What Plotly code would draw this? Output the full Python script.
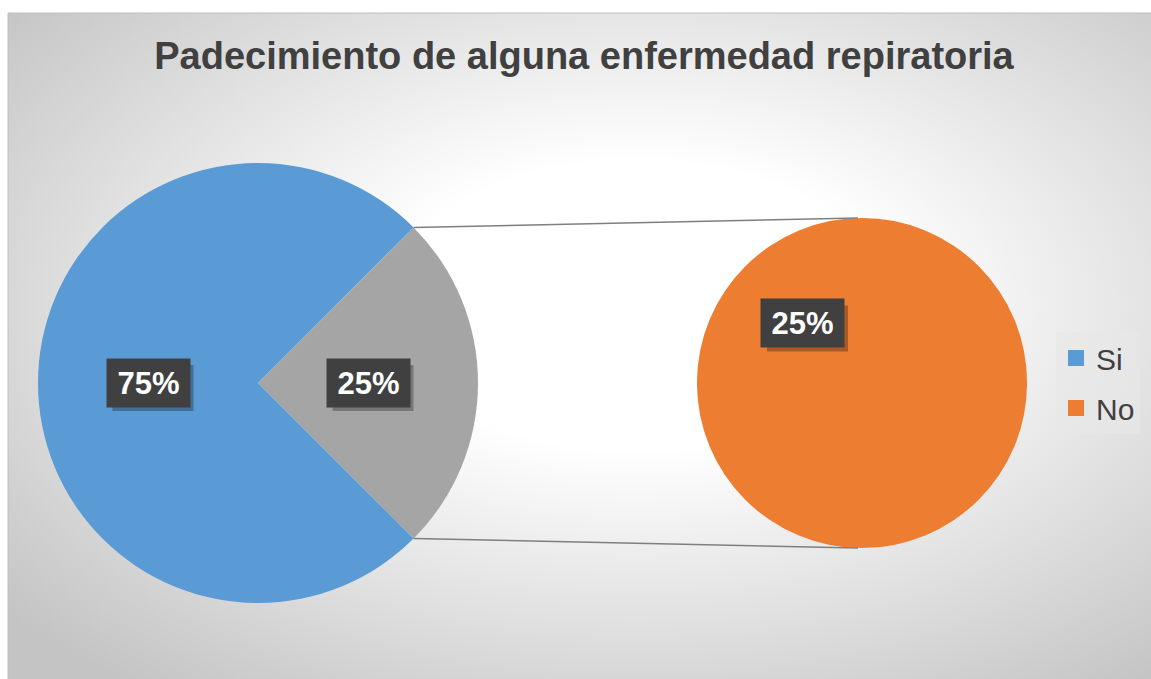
import base64
import math
import plotly.graph_objects as go

# ---------------- data ----------------
categories = ["Si", "No"]
values = [75, 25]
other_label = "Otro"
title_text = "Padecimiento de alguna enfermedad repiratoria"

colors = {"Si": "#5B9BD5", "No": "#ED7D31", "Otro": "#A5A5A5"}

# ---------------- geometry (screen pixels) ----------------
W, H = 1151, 679
L_CX, L_CY, L_R = 258, 383, 220
R_CX, R_CY, R_R = 862, 383, 165
L_ROT = 45     # start of the split-off slice (deg clockwise from 12 o'clock)
R_ROT = 135
BOX_W, BOX_H = 81, 46

total = sum(values)


def px_to_paper(x, y):
    return x / W, 1 - y / H


def dom(cx, cy, r):
    x0, y0 = px_to_paper(cx - r, cy + r)
    x1, y1 = px_to_paper(cx + r, cy - r)
    return dict(x=[x0, x1], y=[y0, y1])


def polar(cx, cy, r, ang_deg):
    a = math.radians(ang_deg)
    return cx + r * math.sin(a), cy - r * math.cos(a)


fig = go.Figure()

# left pie: split-off part (No) shown as grey, then Si
left_vals = [values[1], values[0]]
left_labels = [other_label, categories[0]]
fig.add_trace(go.Pie(
    values=left_vals, labels=left_labels,
    marker=dict(colors=[colors[l] for l in left_labels], line=dict(width=0)),
    sort=False, direction="clockwise", rotation=L_ROT,
    textinfo="none", showlegend=False, domain=dom(L_CX, L_CY, L_R),
    hoverinfo="label+percent",
))

# right pie: the split-off category (No)
fig.add_trace(go.Pie(
    values=[values[1]], labels=[categories[1]],
    marker=dict(colors=[colors["No"]], line=dict(width=0)),
    sort=False, direction="clockwise", rotation=R_ROT,
    textinfo="none", showlegend=False, domain=dom(R_CX, R_CY, R_R),
    hoverinfo="label+percent",
))

# legend entries
for c in categories:
    fig.add_trace(go.Scatter(
        x=[None], y=[None], mode="markers", name=c, legendgroup=c,
        marker=dict(symbol="square", size=17, color=colors[c]),
    ))

# ---------------- labels ----------------
annotations = []
shapes = []


def add_label(cx, cy, r, ang, frac, txt):
    x, y = polar(cx, cy, r * frac, ang)
    # soft shadow
    s0 = px_to_paper(x - BOX_W / 2 + 5, y + BOX_H / 2 + 5)
    s1 = px_to_paper(x + BOX_W / 2 + 5, y - BOX_H / 2 + 5)
    shapes.append(dict(type="rect", xref="paper", yref="paper", x0=s0[0], y0=s0[1], x1=s1[0], y1=s1[1],
                       fillcolor="rgba(0,0,0,0.28)", line=dict(width=0), layer="above"))
    px, py = px_to_paper(x, y)
    annotations.append(dict(x=px, y=py, xref="paper", yref="paper", showarrow=False,
                            width=BOX_W, height=BOX_H, xanchor="center", yanchor="middle", text=txt,
                            bgcolor="#404040",
                            font=dict(size=31, color="white", family="Liberation Sans", weight=700)))


# left pie labels at mid-angles
ang = L_ROT
for v, lab in zip(left_vals, left_labels):
    span = v / sum(left_vals) * 360
    add_label(L_CX, L_CY, L_R, ang + span / 2, 0.5, f"{round(v / total * 100)}%")
    ang += span
# right pie label
add_label(R_CX, R_CY, R_R, R_ROT + 180, 0.51, f"{round(values[1] / total * 100)}%")

# ---------------- connector lines ----------------
p1 = polar(L_CX, L_CY, L_R, L_ROT)
p2 = polar(L_CX, L_CY, L_R, L_ROT + values[1] / total * 360)
for (x0, y0), (x1, y1) in [(p1, (R_CX - 4, R_CY - R_R)), (p2, (R_CX - 4, R_CY + R_R))]:
    a0 = px_to_paper(x0, y0)
    a1 = px_to_paper(x1, y1)
    shapes.append(dict(type="line", xref="paper", yref="paper", x0=a0[0], y0=a0[1],
                       x1=a1[0], y1=a1[1], line=dict(color="#7F7F7F", width=1.5)))

# chart area border
BX0, BY0, BX1, BY1 = 8, 13, 1151, 679
b0 = px_to_paper(BX0, BY0)
b1 = px_to_paper(BX1, BY1)
shapes.append(dict(type="rect", xref="paper", yref="paper", x0=b0[0], y0=b1[1] - 0.01, x1=b1[0] + 0.01, y1=b0[1],
                   line=dict(color="#BEBEBE", width=1), layer="below"))

# background radial gradient
svg = (
    f'<svg xmlns="http://www.w3.org/2000/svg" width="{BX1-BX0}" height="{BY1-BY0}">'
    '<defs><radialGradient id="g" cx="0.55" cy="0.44" r="0.72">'
    '<stop offset="0" stop-color="#ffffff"/>'
    '<stop offset="0.3" stop-color="#ffffff"/>'
    '<stop offset="1" stop-color="#c4c4c4"/>'
    '</radialGradient></defs>'
    '<rect width="100%" height="100%" fill="url(#g)"/></svg>'
)
src = "data:image/svg+xml;base64," + base64.b64encode(svg.encode()).decode()

fig.update_layout(
    width=W, height=H,
    margin=dict(l=0, r=0, t=0, b=0),
    paper_bgcolor="white", plot_bgcolor="rgba(0,0,0,0)",
    xaxis=dict(visible=False), yaxis=dict(visible=False),
    title=dict(text=title_text, x=px_to_paper(584, 0)[0], y=px_to_paper(0, 56)[1],
               xanchor="center", yanchor="middle",
               font=dict(family="Liberation Sans", size=38, color="#404040", weight=700)),
    legend=dict(x=px_to_paper(1056, 0)[0], y=px_to_paper(0, 383)[1], xanchor="left", yanchor="middle",
                bgcolor="rgba(232,232,232,0.6)", traceorder="grouped", tracegroupgap=8,
                font=dict(family="Liberation Sans", size=30, color="#404040")),
    images=[dict(source=src, xref="paper", yref="paper", x=b0[0], y=b0[1],
                 sizex=b1[0] - b0[0], sizey=b0[1] - b1[1], sizing="stretch",
                 xanchor="left", yanchor="top", layer="below")],
    shapes=shapes,
    annotations=annotations,
)

fig.write_html("out.html", config={"displayModeBar": False},
               post_script="document.body.style.margin='0';document.body.style.overflow='hidden';")
